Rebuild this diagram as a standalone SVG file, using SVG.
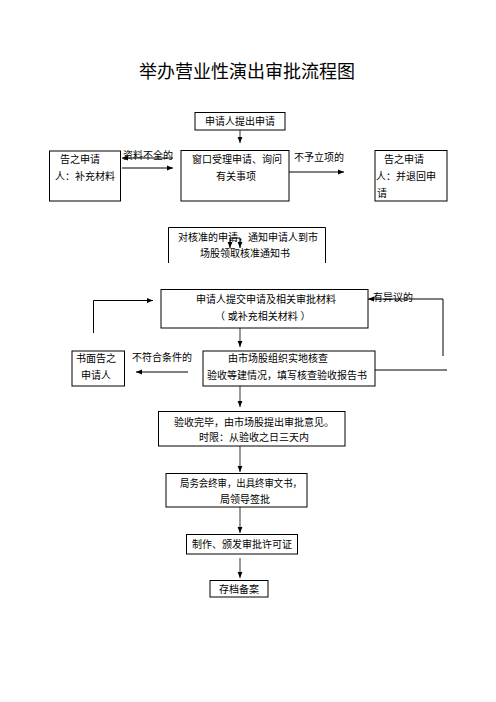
<svg xmlns="http://www.w3.org/2000/svg" width="496" height="702" viewBox="0 0 496 702">
<defs>
<marker id="ah" viewBox="0 0 10 10" refX="10" refY="5" markerWidth="6" markerHeight="6" markerUnits="userSpaceOnUse" orient="auto">
<path d="M0,1 L10,5 L0,9 Z" fill="#000"/>
</marker>
</defs>
<style>
text{font-family:"Liberation Sans","Noto Sans CJK SC",sans-serif;font-size:10px;fill:#000}
.title{font-size:18px}
.box{fill:#fff;stroke:#000;stroke-width:1}
.c{fill:none;stroke:#000;stroke-width:1}
.v{fill:none;stroke:#808080;stroke-width:1.6}
.m{text-anchor:middle}
</style>
<rect width="496" height="702" fill="#fff"/>
<text class="title m" x="247" y="78">举办营业性演出审批流程图</text>

<g id="connectors">
<line class="v" x1="240" y1="130" x2="240" y2="143" marker-end="url(#ah)"/>
<line class="c" x1="173" y1="158" x2="122" y2="158" marker-end="url(#ah)"/>
<line class="c" x1="122" y1="168" x2="173" y2="168" marker-end="url(#ah)"/>
<line class="c" x1="289" y1="172" x2="344" y2="172" marker-end="url(#ah)"/>
<path class="c" d="M230,238 H240"/>
<line class="c" x1="230" y1="238" x2="230" y2="248" marker-end="url(#ah)"/>
<line class="c" x1="240" y1="238" x2="240" y2="248" marker-end="url(#ah)"/>
<line class="v" x1="240" y1="328" x2="240" y2="347" marker-end="url(#ah)"/>
<line class="c" x1="188" y1="372" x2="136" y2="372" marker-end="url(#ah)"/>
<path class="c" d="M93.5,333 V300.5 H153" marker-end="url(#ah)"/>
<path class="c" d="M375,370 H447"/>
<path class="c" d="M443,356 V299 H368" marker-end="url(#ah)"/>
<line class="v" x1="240" y1="386" x2="240" y2="407" marker-end="url(#ah)"/>
<line class="v" x1="240" y1="446" x2="240" y2="472" marker-end="url(#ah)"/>
<line class="v" x1="240" y1="507" x2="240" y2="533" marker-end="url(#ah)"/>
<line class="v" x1="240" y1="558" x2="240" y2="578" marker-end="url(#ah)"/>
<text x="123" y="159">资料不全的</text>
<text x="294" y="161">不予立项的</text>
<text x="132" y="361">不符合条件的</text>
<text x="373" y="301">有异议的</text>
</g>

<g id="n1">
<rect class="box" x="195" y="112.5" width="90" height="17.5"/>
<text class="m" x="240" y="125">申请人提出申请</text>
</g>
<g id="n2">
<rect class="box" x="49.5" y="151" width="71" height="50"/>
<text x="60" y="163">告之申请</text>
<text x="55" y="180">人：补充材料</text>
</g>
<g id="n3">
<rect class="box" x="181" y="150.5" width="108" height="50.5"/>
<text x="192" y="163">窗口受理申请、询问</text>
<text x="216" y="180">有关事项</text>
</g>
<g id="n4">
<rect class="box" x="375" y="150.5" width="72" height="50.5"/>
<text x="384" y="163">告之申请</text>
<text x="376" y="180">人：并退回申</text>
<text x="377" y="197">请</text>
</g>
<g id="n5">
<path class="c" d="M168.5,263 V227.5 H325.5 V263"/>
<text x="178" y="240.5">对核准的申请，通知申请人到市</text>
<text x="200" y="257">场股领取核准通知书</text>
</g>
<g id="n6">
<rect class="box" x="161" y="289.5" width="207" height="38.5"/>
<text x="196" y="303">申请人提交申请及相关审批材料</text>
<text x="215" y="319.5">（ 或补充相关材料 ）</text>
</g>
<g id="n7">
<rect class="box" x="203" y="351" width="172" height="35"/>
<text x="228" y="362">由市场股组织实地核查</text>
<text x="207" y="379">验收等建情况，填写核查验收报告书</text>
</g>
<g id="n8">
<rect class="box" x="72" y="351" width="52.5" height="35"/>
<text class="m" x="96" y="362">书面告之</text>
<text class="m" x="96" y="379">申请人</text>
</g>
<g id="n9">
<rect class="box" x="158.5" y="411.5" width="186.5" height="34.5"/>
<text x="174" y="425.5">验收完毕，由市场股提出审批意见。</text>
<text x="199" y="440.5">时限：从验收之日三天内</text>
</g>
<g id="n10">
<rect class="box" x="166" y="473.5" width="141" height="33.5"/>
<text x="180" y="487" textLength="122" lengthAdjust="spacingAndGlyphs">局务会终审，出具终审文书，</text>
<text x="220" y="503">局领导签批</text>
</g>
<g id="n11">
<rect class="box" x="186.5" y="534.5" width="111" height="19.5"/>
<text class="m" x="242" y="548">制作、颁发审批许可证</text>
</g>
<g id="n12">
<rect class="box" x="210" y="580.5" width="58" height="16.5"/>
<text class="m" x="239" y="592.5">存档备案</text>
</g>
</svg>
